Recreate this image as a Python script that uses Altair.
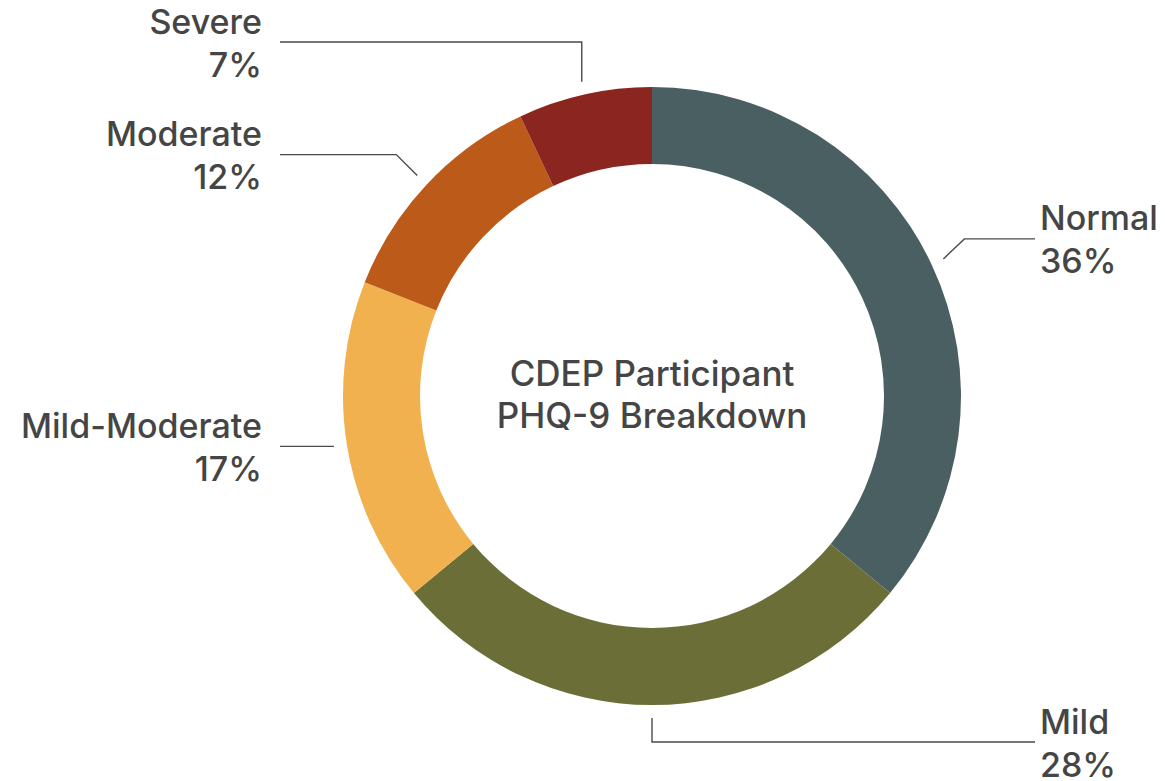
import math
import altair as alt
import pandas as pd

# ---- data ----
categories = ["Normal", "Mild", "Mild-Moderate", "Moderate", "Severe"]
percents = [36, 28, 17, 12, 7]
colors = ["#4a5f61", "#6b6f37", "#f0b14e", "#bc5a19", "#8b251f"]
center_title = ["CDEP Participant", "PHQ-9 Breakdown"]

# ---- layout (pixels) ----
W, H = 1149, 773
CX, CY = 644, 388          # donut centre inside the view
R_OUT, R_IN = 309, 232
R_LEAD = 322               # where leader lines start
FONT = "Inter"
FS = 34
FS_CENTER = 35
FW = 500
LH = 43
TXT = "#454545"
LINE = "#4a4a4a"
RIGHT_END, LEFT_END = 383, -372   # horizontal end of leader lines
GAP = 5
# per-category leader shape: ("diag", dx, dy) | ("vert", y) | ("none",)
shapes = {
    "Normal": ("diag", 21, 20),
    "Mild": ("vert", -346),
    "Mild-Moderate": ("none",),
    "Moderate": ("diag", -21, 21),
    "Severe": ("vert", 354),
}

arc_df = pd.DataFrame({"category": categories, "percent": percents,
                       "idx": list(range(len(categories)))})

total = sum(percents)
line_rows, label_rows = [], []
cum = 0
for cat, p in zip(categories, percents):
    mid = (cum + p / 2) / total * 2 * math.pi
    cum += p
    sx, sy = R_LEAD * math.sin(mid), R_LEAD * math.cos(mid)
    pts = [(sx, sy)]
    sh = shapes[cat]
    if sh[0] == "diag":
        pts.append((sx + sh[1], sy + sh[2]))
    elif sh[0] == "vert":
        pts.append((sx, sh[1]))
    ey = pts[-1][1]
    right = sx > 0
    pts.append((RIGHT_END if right else LEFT_END, ey))
    for i, (x, y) in enumerate(pts):
        line_rows.append({"category": cat, "pt": i, "x": x, "y": y})
    label_rows.append({"category": cat, "text": [cat, f"{p}%"],
                       "x": (RIGHT_END + GAP) if right else (LEFT_END - GAP - 13),
                       "y": ey, "side": "right" if right else "left"})

line_df = pd.DataFrame(line_rows)
label_df = pd.DataFrame(label_rows)
center_df = pd.DataFrame({"text": [center_title], "x": [0], "y": [0]})

xs = alt.Scale(domain=[-CX, W - CX], nice=False, zero=False)
ys = alt.Scale(domain=[-(H - CY), CY], nice=False, zero=False)

arcs = alt.Chart(arc_df).mark_arc(outerRadius=R_OUT, innerRadius=R_IN).encode(
    theta=alt.Theta("percent:Q", stack=True),
    order=alt.Order("idx:Q"),
    color=alt.Color("category:N", scale=alt.Scale(domain=categories, range=colors), legend=None),
    x=alt.datum(0, scale=xs, axis=None),
    y=alt.datum(0, scale=ys, axis=None),
)

leaders = alt.Chart(line_df).mark_line(color=LINE, strokeWidth=1.4).encode(
    x=alt.X("x:Q", scale=xs, axis=None),
    y=alt.Y("y:Q", scale=ys, axis=None),
    detail="category:N",
    order="pt:Q",
)

def label_layer(side, align):
    return alt.Chart(label_df).transform_filter(alt.datum.side == side).mark_text(
        align=align, baseline="middle", font=FONT, fontSize=FS, fontWeight=FW,
        lineHeight=LH, dy=-LH / 2 + 3, color=TXT
    ).encode(
        x=alt.X("x:Q", scale=xs, axis=None),
        y=alt.Y("y:Q", scale=ys, axis=None),
        text="text",
    )

center = alt.Chart(center_df).mark_text(
    align="center", baseline="middle", font=FONT, fontSize=FS_CENTER, fontWeight=FW,
    lineHeight=42, dy=-21, color=TXT
).encode(
    x=alt.X("x:Q", scale=xs, axis=None),
    y=alt.Y("y:Q", scale=ys, axis=None),
    text="text",
)

chart = alt.layer(arcs, leaders, label_layer("right", "left"), label_layer("left", "right"), center).properties(
    width=W, height=H, padding=0, autosize=alt.AutoSizeParams(type="none")
).configure_view(stroke=None)

chart.save("out.html", embed_options={"renderer": "svg", "actions": False})
